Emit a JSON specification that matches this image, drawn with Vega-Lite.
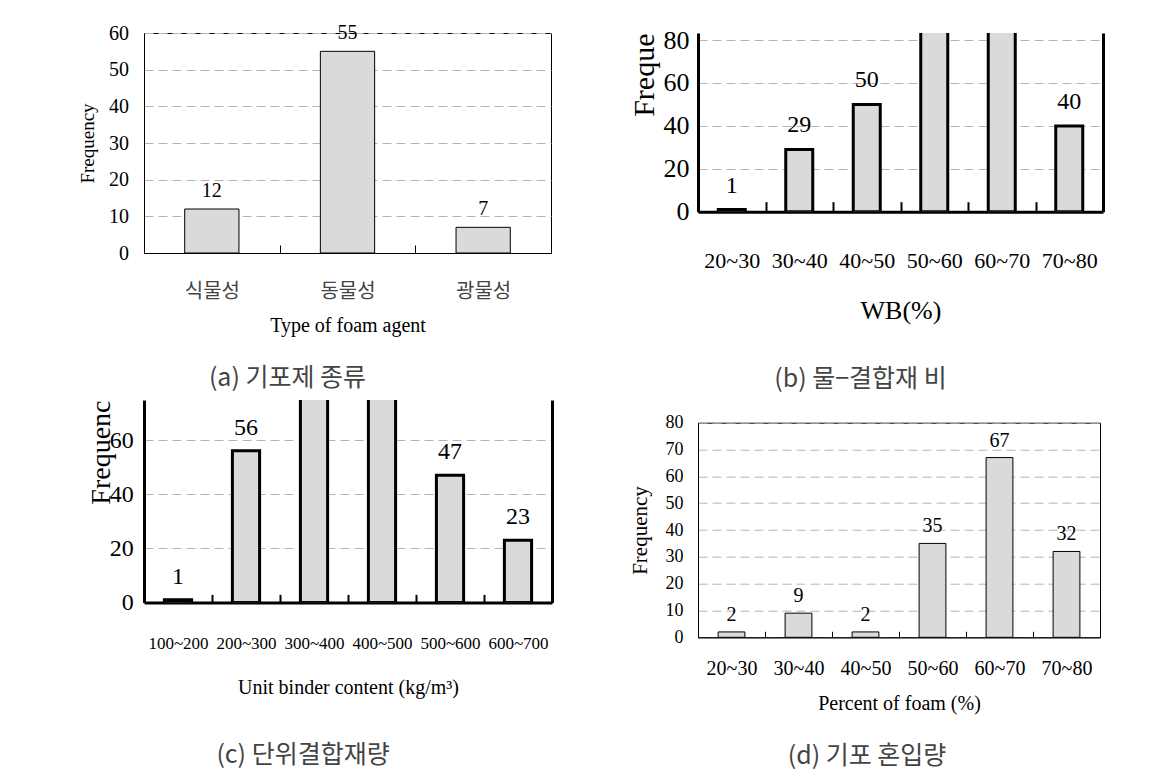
{
  "$schema": "https://vega.github.io/schema/vega-lite/v6.json",
  "padding": {"left": 78, "top": 22, "right": 5, "bottom": 5},
  "background": "white",
  "datasets": {
    "a": [{"cat": "식물성", "n": 12}, {"cat": "동물성", "n": 55}, {"cat": "광물성", "n": 7}],
    "b": [{"cat": "20~30", "n": 1}, {"cat": "30~40", "n": 29}, {"cat": "40~50", "n": 50}, {"cat": "50~60", "n": 96}, {"cat": "60~70", "n": 91}, {"cat": "70~80", "n": 40}],
    "c": [{"cat": "100~200", "n": 1}, {"cat": "200~300", "n": 56}, {"cat": "300~400", "n": 84}, {"cat": "400~500", "n": 80}, {"cat": "500~600", "n": 47}, {"cat": "600~700", "n": 23}],
    "d": [{"cat": "20~30", "n": 2}, {"cat": "30~40", "n": 9}, {"cat": "40~50", "n": 2}, {"cat": "50~60", "n": 35}, {"cat": "60~70", "n": 67}, {"cat": "70~80", "n": 32}]
  },
  "spacing": 76,
  "hconcat": [
    {
      "spacing": 7,
      "vconcat": [
        {
          "width": 407, "height": 220,
          "data": {"name": "a"},
          "view": {"stroke": "black", "strokeWidth": 1},
          "title": {"text": "(a) 기포제 종류", "orient": "bottom", "frame": "group", "anchor": "middle", "dx": -60, "offset": 30},
          "encoding": {
            "x": {"field": "cat", "type": "nominal", "sort": null,
              "scale": {"paddingInner": 0, "paddingOuter": 0},
              "axis": {"title": "Type of foam agent", "titleFontSize": 20, "titlePadding": 14, "labelAngle": 0, "labelFont": "Noto Sans CJK KR", "labelFontSize": 20, "labelColor": "#444", "labelPadding": 36.7, "tickBand": "extent", "tickSize": -8, "grid": false}},
            "y": {"field": "n", "type": "quantitative", "scale": {"domain": [0, 60], "nice": false},
              "axis": {"title": "Frequency", "titleFontSize": 19, "titlePadding": 10.7, "values": [0, 10, 20, 30, 40, 50, 60], "labelFont": "Liberation Serif", "labelFontSize": 20, "labelPadding": 15.6, "ticks": false, "grid": true}}
          },
          "layer": [
            {"mark": {"type": "bar", "width": {"band": 0.4}, "fill": "#dadada", "stroke": "black", "strokeWidth": 1}},
            {"mark": {"type": "text", "baseline": "alphabetic", "dy": -12, "fontSize": 20, "font": "Liberation Serif"}, "encoding": {"text": {"field": "n"}}}
          ]
        },
        {
          "width": 408, "height": 202.4,
          "data": {"name": "c"},
          "view": {"stroke": null},
          "title": {"text": "(c) 단위결합재량", "orient": "bottom", "frame": "group", "anchor": "middle", "dx": -45, "offset": 45.6},
          "encoding": {
            "x": {"field": "cat", "type": "nominal", "sort": null,
              "scale": {"paddingInner": 0, "paddingOuter": 0},
              "axis": {"title": "Unit binder content (kg/m³)", "titleFontSize": 20, "titlePadding": 25.7, "labelAngle": 0, "labelFont": "Liberation Serif", "labelFontSize": 17, "labelPadding": 41, "tickBand": "extent", "tickSize": -8, "tickWidth": 2, "domainWidth": 3, "grid": false}}
          },
          "layer": [
            {"mark": {"type": "bar", "width": {"band": 0.4}, "clip": true, "fill": "#dadada", "stroke": "black", "strokeWidth": 3},
             "encoding": {"y": {"field": "n", "type": "quantitative", "scale": {"domain": [0, 74.8], "nice": false},
               "axis": {"title": "Frequenc", "titleFontSize": 28, "titleAnchor": "end", "titlePadding": -5.7, "values": [0, 20, 40, 60], "labelFont": "Liberation Serif", "labelFontSize": 24, "labelPadding": 10.7, "ticks": false, "grid": true, "domainWidth": 3}}}},
            {"transform": [{"filter": "datum.n < 74.8"}],
             "mark": {"type": "text", "baseline": "alphabetic", "dy": -16, "fontSize": 24, "font": "Liberation Serif"},
             "encoding": {"y": {"field": "n", "type": "quantitative", "scale": {"domain": [0, 74.8], "nice": false}, "axis": null}, "text": {"field": "n"}}},
            {"mark": {"type": "bar", "width": {"band": 0.4}, "clip": true, "opacity": 0},
             "encoding": {"y": {"field": "n", "type": "quantitative", "scale": {"domain": [0, 74.8], "nice": false},
               "axis": {"orient": "right", "labels": false, "ticks": false, "grid": false, "title": null, "domainWidth": 3}}}}
          ],
          "resolve": {"scale": {"y": "independent"}}
        }
      ]
    },
    {
      "spacing": 20.7,
      "vconcat": [
        {
          "width": 405, "height": 178.7,
          "data": {"name": "b"},
          "view": {"stroke": null},
          "title": {"text": "(b) 물−결합재 비", "orient": "bottom", "frame": "group", "anchor": "middle", "dx": -40, "offset": 43.4},
          "encoding": {
            "x": {"field": "cat", "type": "nominal", "sort": null,
              "scale": {"paddingInner": 0, "paddingOuter": 0},
              "axis": {"title": "WB(%)", "titleFontSize": 26, "titlePadding": 25.7, "labelAngle": 0, "labelFont": "Liberation Serif", "labelFontSize": 22, "labelPadding": 49.2, "tickBand": "extent", "tickSize": -10, "tickWidth": 2, "domainWidth": 3, "grid": false}}
          },
          "layer": [
            {"mark": {"type": "bar", "width": {"band": 0.4}, "clip": true, "fill": "#dadada", "stroke": "black", "strokeWidth": 3},
             "encoding": {"y": {"field": "n", "type": "quantitative", "scale": {"domain": [0, 83.3], "nice": false},
               "axis": {"title": "Freque", "titleFontSize": 30, "titleAnchor": "end", "titlePadding": 3.5, "values": [0, 20, 40, 60, 80], "labelFont": "Liberation Serif", "labelFontSize": 26, "labelPadding": 9, "ticks": false, "grid": true, "domainWidth": 3}}}},
            {"transform": [{"filter": "datum.n < 83.3"}],
             "mark": {"type": "text", "baseline": "alphabetic", "dy": -17, "fontSize": 24, "font": "Liberation Serif"},
             "encoding": {"y": {"field": "n", "type": "quantitative", "scale": {"domain": [0, 83.3], "nice": false}, "axis": null}, "text": {"field": "n"}}},
            {"mark": {"type": "bar", "width": {"band": 0.4}, "clip": true, "opacity": 0},
             "encoding": {"y": {"field": "n", "type": "quantitative", "scale": {"domain": [0, 83.3], "nice": false},
               "axis": {"orient": "right", "labels": false, "ticks": false, "grid": false, "title": null, "domainWidth": 3}}}}
          ],
          "resolve": {"scale": {"y": "independent"}}
        },
        {
          "width": 402, "height": 214.6,
          "data": {"name": "d"},
          "view": {"stroke": "black", "strokeWidth": 1},
          "title": {"text": "(d) 기포 혼입량", "orient": "bottom", "frame": "group", "anchor": "middle", "dx": -32, "offset": 30.6},
          "encoding": {
            "x": {"field": "cat", "type": "nominal", "sort": null,
              "scale": {"paddingInner": 0, "paddingOuter": 0},
              "axis": {"title": "Percent of foam (%)", "titleFontSize": 20, "titlePadding": 14.9, "labelAngle": 0, "labelFont": "Liberation Serif", "labelFontSize": 20, "labelPadding": 27.2, "tickBand": "extent", "tickSize": -6, "grid": false}},
            "y": {"field": "n", "type": "quantitative", "scale": {"domain": [0, 80], "nice": false},
              "axis": {"title": "Frequency", "titleFontSize": 21, "titlePadding": 14.5, "values": [0, 10, 20, 30, 40, 50, 60, 70, 80], "labelFont": "Liberation Serif", "labelFontSize": 18, "labelPadding": 15, "ticks": false, "grid": true}}
          },
          "layer": [
            {"mark": {"type": "bar", "width": {"band": 0.4}, "fill": "#dadada", "stroke": "black", "strokeWidth": 1}},
            {"mark": {"type": "text", "baseline": "alphabetic", "dy": -11, "fontSize": 20, "font": "Liberation Serif"}, "encoding": {"text": {"field": "n"}}}
          ]
        }
      ]
    }
  ],
  "config": {
    "font": "Liberation Serif",
    "axis": {"labelFont": "Liberation Serif", "titleFont": "Liberation Serif", "labelColor": "black", "titleColor": "black", "titleFontWeight": "normal", "domainColor": "black", "tickColor": "black", "gridColor": "#b4b4b4", "gridDash": [9, 5], "labelOverlap": false, "labelFlush": false},
    "title": {"font": "Noto Sans CJK KR", "fontWeight": "normal", "color": "#444", "fontSize": 25, "baseline": "top"}
  }
}
